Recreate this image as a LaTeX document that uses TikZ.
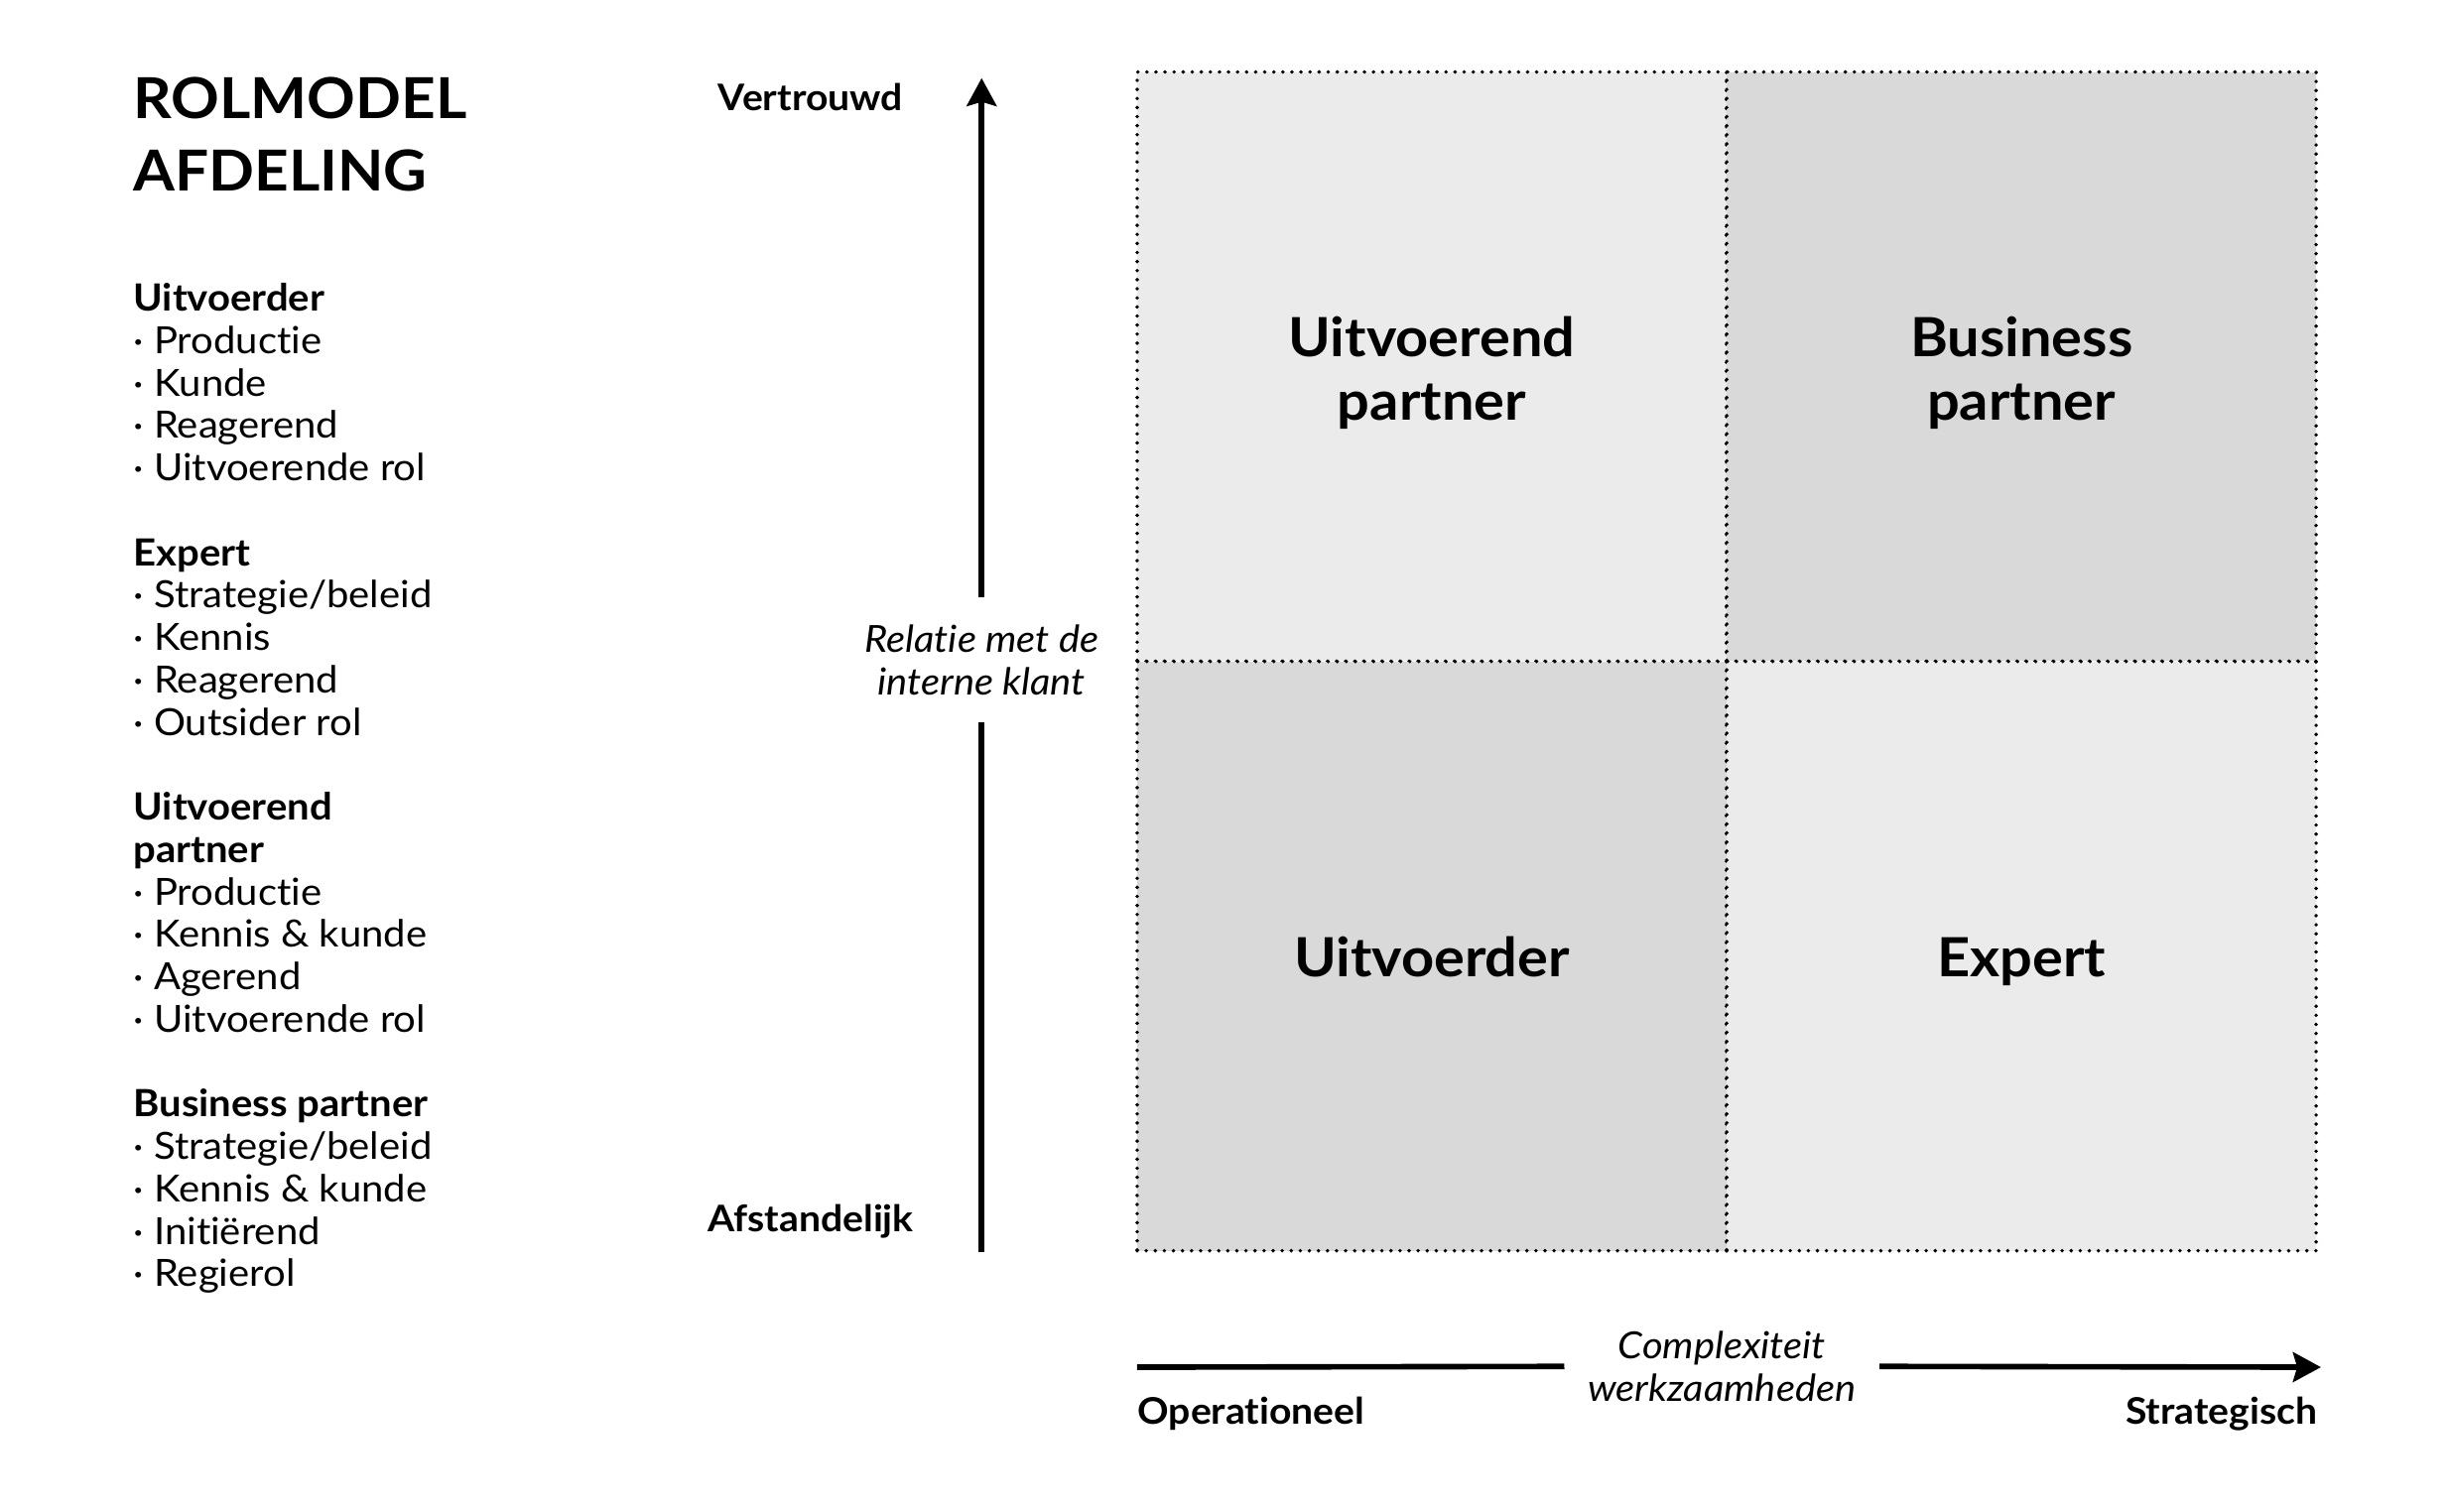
\documentclass[tikz,border=0pt]{standalone}
\usepackage{fontspec}
\setmainfont{Lato}[FakeStretch=1.06, Ligatures=NoCommon]
\usetikzlibrary{arrows.meta,positioning}
\definecolor{quadlight}{HTML}{EBEBEB}
\definecolor{quaddark}{HTML}{D9D9D9}
\newcommand{\itm}{·\ }

\begin{document}
\begin{tikzpicture}[
  x=0.01574cm, y=-0.01574cm,
  every node/.style={inner sep=0pt},
  quad/.style={draw, dash pattern=on 0pt off 2.6pt, line cap=round, line width=1.1pt,
    minimum width=5.942cm, minimum height=5.942cm},
  qtext/.style={align=center, font=\fontsize{15.5}{18.3}\selectfont\bfseries},
  axis/.style={line width=1.6pt},
  axisarrow/.style={axis, -{Stealth[length=8pt, width=8.5pt, inset=1.2pt]}},
  pole/.style={font=\fontsize{10.5}{12.5}\selectfont\bfseries},
  axlabel/.style={font=\fontsize{10.7}{12.2}\selectfont\itshape, align=center},
  listtxt/.style={font=\fontsize{10.75}{12.17}\selectfont, align=left},
]
  \useasboundingbox (0,0) rectangle (1568,968);
  % --- title and role list (base = last line) ---
  \node[anchor=base west, align=left, font=\fontsize{16.2}{20.6}\selectfont\bfseries] (title) at (85,122)
    {ROLMODEL\\AFDELING};
  \node[listtxt, anchor=base west] (roles) at (85,824)
    {\textbf{Uitvoerder}\\ \itm Productie\\ \itm Kunde\\ \itm Reagerend\\ \itm Uitvoerende rol\\[12.17pt]
     \textbf{Expert}\\ \itm Strategie/beleid\\ \itm Kennis\\ \itm Reagerend\\ \itm Outsider rol\\[12.17pt]
     \textbf{Uitvoerend}\\ \textbf{partner}\\ \itm Productie\\ \itm Kennis \& kunde\\ \itm Agerend\\ \itm Uitvoerende rol\\[12.17pt]
     \textbf{Business partner}\\ \itm Strategie/beleid\\ \itm Kennis \& kunde\\ \itm Initiërend\\ \itm Regierol};
  % --- quadrants ---
  \node[quad, fill=quadlight] (uitpart) at (916.75,234.75) {};
  \node[quad, fill=quaddark] (buspart) at (1294.25,234.75) {};
  \node[quad, fill=quaddark] (uitv) at (916.75,612.25) {};
  \node[quad, fill=quadlight] (expert) at (1294.25,612.25) {};
  \node[qtext] (uitpartlbl) at ([yshift=-0.065cm]uitpart.center) {Uitvoerend\\partner};
  \node[qtext] (buspartlbl) at ([yshift=-0.065cm]buspart.center) {Business\\partner};
  \node[qtext, anchor=base] (uitvlbl) at (916.75,625.5) {Uitvoerder};
  \node[qtext, anchor=base] (expertlbl) at (1294.25,625.5) {Expert};
  % --- vertical axis ---
  \coordinate (ybot) at (628.5,802);
  \coordinate (ytop) at (628.5,50);
  \node[axlabel, minimum height=1.243cm] (relatie) at (628.5,422.5) {Relatie met de\\interne klant};
  \draw[axis] (ybot) -- (relatie.south);
  \draw[axisarrow] (relatie.north) -- (ytop);
  \node[pole, anchor=base] (vertrouwd) at (519,71) {Vertrouwd};
  \node[pole, anchor=base] (afstand) at (519,789) {Afstandelijk};
  % --- horizontal axis ---
  \coordinate (xleft) at (728,875.5);
  \coordinate (xright) at (1486,875.5);
  \node[axlabel, minimum width=3.164cm] (complex) at (1102.5,875) {Complexiteit\\werkzaamheden};
  \draw[axis] (xleft) -- (complex.west);
  \draw[axisarrow] (complex.east) -- (xright);
  \node[pole, anchor=base west] (oper) at (728,912) {Operationeel};
  \node[pole, anchor=base east] (strat) at (1484,912) {Strategisch};
\end{tikzpicture}
\end{document}
